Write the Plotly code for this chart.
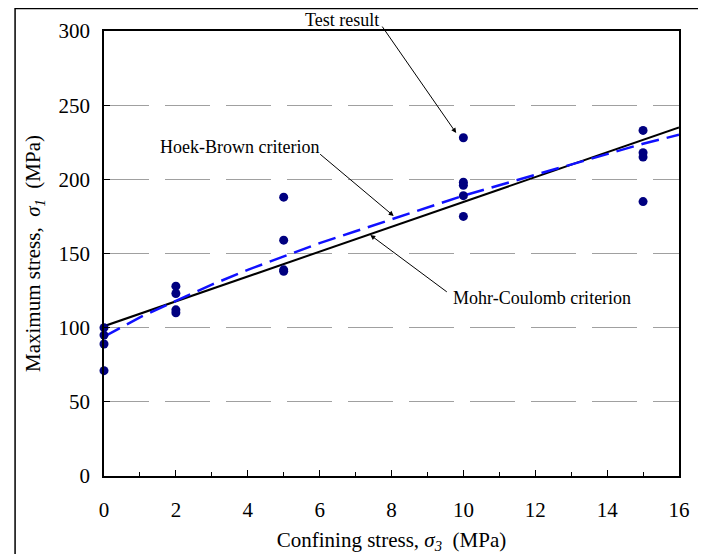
import plotly.graph_objects as go

# Test results (confining stress, maximum stress)
test_s3 = [0, 0, 0, 0,
           2, 2, 2, 2,
           5, 5, 5, 5,
           10, 10, 10, 10, 10,
           15, 15, 15, 15]
test_s1 = [100, 95, 89, 71,
           128, 123, 112, 110,
           188, 159, 139, 138,
           228, 198, 196, 189, 175,
           233, 218, 215, 185]

# Mohr-Coulomb criterion (straight line)
mc_s3 = [0, 16]
mc_s1 = [101, 235]

# Hoek-Brown criterion (curve)
hb_s3 = [0, 1, 2, 3, 4, 5, 6, 7, 8, 9, 10, 11, 12, 13, 14, 15, 16]
hb_s1 = [94, 107, 118, 129, 139, 148, 157, 165, 173, 181, 189, 196, 203, 210, 217, 224, 230]

x_ticks = [0, 2, 4, 6, 8, 10, 12, 14, 16]
y_ticks = [0, 50, 100, 150, 200, 250, 300]

FONT = "Times New Roman, Liberation Serif, serif"

fig = go.Figure()
fig.add_trace(go.Scatter(x=mc_s3, y=mc_s1, mode="lines",
                         line=dict(color="black", width=2), showlegend=False))
fig.add_trace(go.Scatter(x=hb_s3, y=hb_s1, mode="lines",
                         line=dict(color="#1010ff", width=2.5, dash="18px,8px"),
                         showlegend=False))
fig.add_trace(go.Scatter(x=test_s3, y=test_s1, mode="markers",
                         marker=dict(color="#000080", size=9), showlegend=False,
                         cliponaxis=False))

OFF = 8  # page body margin
L, R, T, B = 103.5, 679, 31, 476   # plot area in page pixels
W, H = 706, 554
pw, ph = R - L, B - T


def px(xp):
    return (xp - L) / pw


def py(yp):
    return (B - yp) / ph


fig.update_layout(
    width=W, height=H,
    margin=dict(l=L - OFF, r=W - (R - OFF), t=T - OFF, b=H - (B - OFF), pad=0),
    paper_bgcolor="white", plot_bgcolor="white",
    font=dict(family=FONT, color="black"),
    xaxis=dict(range=[0, 16], tickvals=x_ticks, ticks="inside", ticklen=6,
               tickwidth=1, tickcolor="black", ticklabelstandoff=14,
               minor=dict(dtick=1, ticks="inside", ticklen=4, tickcolor="black"),
               showline=True, linecolor="black", linewidth=1.5, mirror=True,
               showgrid=False, zeroline=False,
               tickfont=dict(size=21, family=FONT),
               title=dict(text="Confining stress, <i>σ<sub>3</sub></i>  (MPa)",
                          font=dict(size=21, family=FONT), standoff=11)),
    yaxis=dict(range=[0, 300], tickvals=y_ticks, ticks="inside", ticklen=6,
               tickwidth=1, tickcolor="black", ticklabelstandoff=8,
               showline=True, linecolor="black", linewidth=1.5, mirror=True,
               showgrid=True, gridcolor="#a0a0a0", gridwidth=1,
               griddash="45px,16px", zeroline=False,
               tickfont=dict(size=21, family=FONT),
               title=dict(text="Maximum stress,  <i>σ<sub>1</sub></i>  (MPa)",
                          font=dict(size=21, family=FONT), standoff=12)),
)

ann_font = dict(size=18, family=FONT, color="black")
txt = dict(xref="paper", yref="paper", showarrow=False, font=ann_font,
           xanchor="center", yanchor="middle")
fig.add_annotation(text="Test result", x=px(342), y=py(20), **txt)
fig.add_annotation(text="Hoek-Brown criterion", x=px(239), y=py(147), **txt)
fig.add_annotation(text="Mohr-Coulomb criterion", x=px(542), y=py(298), **txt)

arrow = dict(showarrow=True, arrowhead=2, arrowsize=1, arrowwidth=1,
             arrowcolor="black", text="", axref="pixel", ayref="pixel")
fig.add_annotation(x=9.80, y=231.2, ax=-75, ay=-108, **arrow)
fig.add_annotation(x=8.06, y=175.3, ax=-75, ay=-63, **arrow)
fig.add_annotation(x=7.41, y=162.5, ax=78, ay=58, **arrow)

# outer frame of the figure
fig.add_shape(type="rect", xref="paper", yref="paper",
              x0=px(14.5), x1=px(700), y0=py(570), y1=py(8.5),
              line=dict(color="black", width=1.5), fillcolor="rgba(0,0,0,0)",
              layer="above")

fig.write_html("out.html")
